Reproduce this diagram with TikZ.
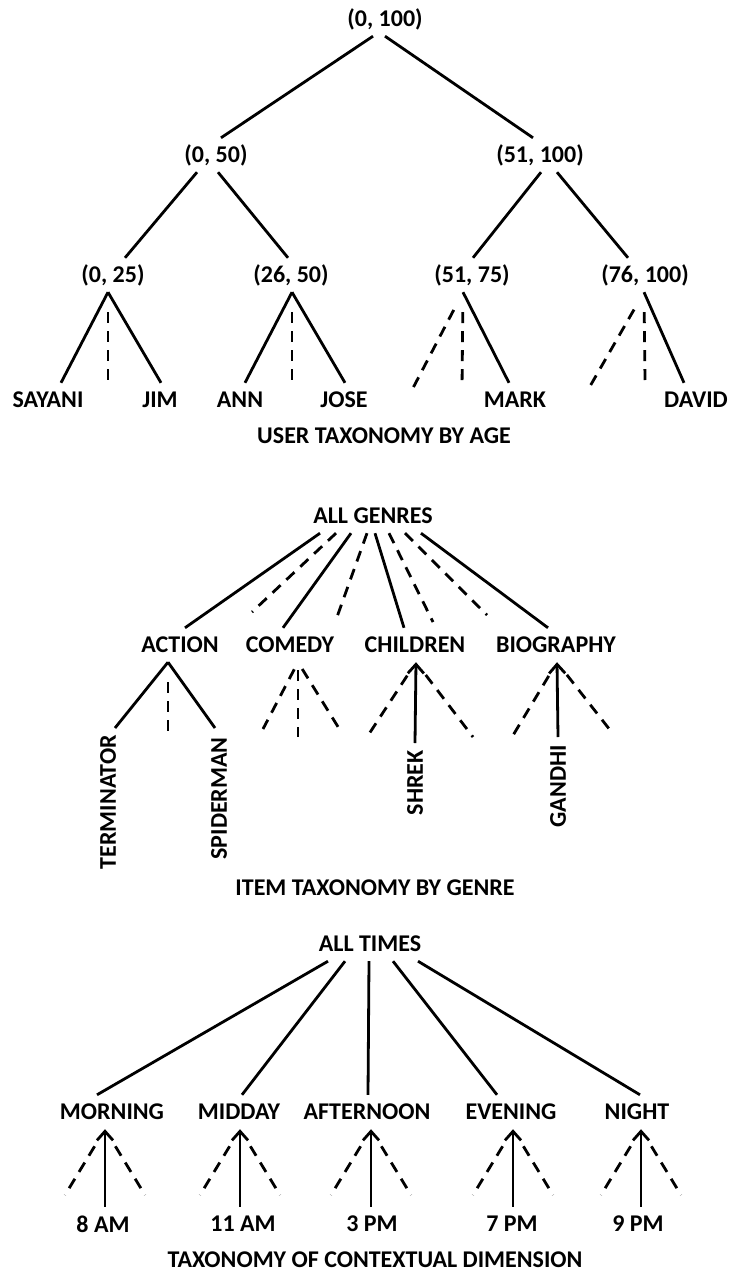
\documentclass[tikz,border=0pt]{standalone}
\usepackage{fontspec}
\setmainfont{Carlito}
\usetikzlibrary{arrows.meta}

\begin{document}
\begin{tikzpicture}[
  x=1pt,y=-1pt,
  lbl/.style={font=\bfseries\fontsize{24}{28}\selectfont,inner sep=0pt,minimum height=34pt},
  vlbl/.style={lbl,rotate=90,anchor=east,minimum height=0pt},
  sl/.style={line width=2.8pt},
  dl/.style={line width=2.8pt,dash pattern=on 11pt off 8pt},
  up/.style={line width=2.8pt,-{Straight Barb[length=9pt,width=16pt]}}
]
  \useasboundingbox (0,0) rectangle (730,1274);

  % user taxonomy by age
  \node[lbl] (root) at (385,19) {(0, 100)};
  \node[lbl] (a) at (216,155) {(0, 50)};
  \node[lbl] (b) at (540,155) {(51, 100)};
  \node[lbl] (a1) at (113,275) {(0, 25)};
  \node[lbl] (a2) at (291,275) {(26, 50)};
  \node[lbl] (b1) at (472,275) {(51, 75)};
  \node[lbl] (b2) at (645,275) {(76, 100)};
  \node[lbl] (sayani) at (48,400) {SAYANI};
  \node[lbl] (jim) at (160,400) {JIM};
  \node[lbl] (ann) at (240,400) {ANN};
  \node[lbl] (jose) at (344,400) {JOSE};
  \node[lbl] (mark) at (515,400) {MARK};
  \node[lbl] (david) at (696,400) {DAVID};
  \node[lbl] (agecap) at (384,436) {USER TAXONOMY BY AGE};
  \coordinate (a1v) at (108,380);
  \coordinate (a2v) at (292,380);
  \coordinate (b1l) at (413,388);
  \coordinate (b1v) at (462,388);
  \coordinate (b2l) at (589,388);
  \coordinate (b2v) at (645,380);

  \draw[sl] ([xshift=-12]root.south) -- ([xshift=5]a.north);
  \draw[sl] (root.south) -- ([xshift=-7]b.north);
  \draw[sl] ([xshift=-19]a.south) -- ([xshift=12]a1.north);
  \draw[sl] ([xshift=2]a.south) -- ([xshift=-3]a2.north);
  \draw[sl] ([xshift=1]b.south) -- ([xshift=1]b1.north);
  \draw[sl] ([xshift=17]b.south) -- ([xshift=-17]b2.north);
  \draw[sl] ([xshift=-5]a1.south) -- ([xshift=13]sayani.north);
  \draw[sl] ([xshift=-5]a1.south) -- ([xshift=1]jim.north);
  \draw[dl,shorten <=20pt] ([xshift=-5]a1.south) -- (a1v);
  \draw[sl] ([xshift=1]a2.south) -- ([xshift=5]ann.north);
  \draw[sl] ([xshift=1]a2.south) -- ([xshift=1]jose.north);
  \draw[dl,shorten <=20pt] ([xshift=1]a2.south) -- (a2v);
  \draw[sl] ([xshift=-9]b1.south) -- ([xshift=-6]mark.north);
  \draw[dl,shorten <=20pt] ([xshift=-9]b1.south) -- (b1l);
  \draw[dl,shorten <=20pt] ([xshift=-9]b1.south) -- (b1v);
  \draw[sl] ([xshift=-1]b2.south) -- ([xshift=-12]david.north);
  \draw[dl,shorten <=20pt] ([xshift=-1]b2.south) -- (b2l);
  \draw[dl,shorten <=20pt] ([xshift=-1]b2.south) -- (b2v);

  % item taxonomy by genre
  \node[lbl] (genres) at (373,516) {ALL GENRES};
  \node[lbl] (action) at (180,645) {ACTION};
  \node[lbl] (comedy) at (290,645) {COMEDY};
  \node[lbl] (children) at (415,645) {CHILDREN};
  \node[lbl] (biography) at (556,645) {BIOGRAPHY};
  \node[vlbl] (terminator) at (108,735) {TERMINATOR};
  \node[vlbl] (spiderman) at (219,737) {SPIDERMAN};
  \node[vlbl] (shrek) at (415,750) {SHREK};
  \node[vlbl] (gandhi) at (558,745) {GANDHI};
  \node[lbl] (genrecap) at (375,888) {ITEM TAXONOMY BY GENRE};
  \coordinate (g2) at (252,612);
  \coordinate (g4) at (337,617);
  \coordinate (g6) at (433,622);
  \coordinate (g7) at (487,615);
  \coordinate (actv) at (168,737);
  \coordinate (coml) at (263,729);
  \coordinate (comv) at (298,737);
  \coordinate (comr) at (340,730);
  \coordinate (chl) at (367,737);
  \coordinate (chr) at (473,737);
  \coordinate (bil) at (512,737);
  \coordinate (bir) at (610,730);

  \draw[sl] ([xshift=-53]genres.south) -- ([xshift=5]action.north);
  \draw[dl] ([xshift=-37]genres.south) -- (g2);
  \draw[sl] ([xshift=-22]genres.south) -- ([xshift=-7]comedy.north);
  \draw[dl] ([xshift=-6]genres.south) -- (g4);
  \draw[sl] ([xshift=2]genres.south) -- ([xshift=-11]children.north);
  \draw[dl] ([xshift=16]genres.south) -- (g6);
  \draw[dl] ([xshift=32]genres.south) -- (g7);
  \draw[sl] ([xshift=48]genres.south) -- ([xshift=-8]biography.north);
  \draw[sl] ([xshift=-12]action.south) -- ([shift={(7,-7)}]terminator.east);
  \draw[sl] ([xshift=-12]action.south) -- ([shift={(-4,-9)}]spiderman.east);
  \draw[dl,shorten <=20pt] ([xshift=-12]action.south) -- (actv);
  \draw[dl,shorten <=8pt] ([xshift=8]comedy.south) -- (coml);
  \draw[dl,shorten <=8pt] ([xshift=8]comedy.south) -- (comv);
  \draw[dl,shorten <=8pt] ([xshift=8]comedy.south) -- (comr);
  \draw[up] ([yshift=7]shrek.east) -- ([xshift=1]children.south);
  \draw[dl,shorten <=16pt] ([xshift=1]children.south) -- (chl);
  \draw[dl,shorten <=16pt] ([xshift=1]children.south) -- (chr);
  \draw[up] ([yshift=8]gandhi.east) -- ([xshift=1]biography.south);
  \draw[dl,shorten <=16pt] ([xshift=1]biography.south) -- (bil);
  \draw[dl,shorten <=16pt] ([xshift=1]biography.south) -- (bir);

  % taxonomy of contextual dimension
  \node[lbl] (times) at (370,944) {ALL TIMES};
  \node[lbl] (morning) at (112,1112) {MORNING};
  \node[lbl] (midday) at (239,1112) {MIDDAY};
  \node[lbl] (afternoon) at (367,1112) {AFTERNOON};
  \node[lbl] (evening) at (511,1112) {EVENING};
  \node[lbl] (night) at (637,1112) {NIGHT};
  \node[lbl] (t8am) at (103,1224) {8 AM};
  \node[lbl] (t11am) at (243,1224) {11 AM};
  \node[lbl] (t3pm) at (372,1224) {3 PM};
  \node[lbl] (t7pm) at (512,1224) {7 PM};
  \node[lbl] (t9pm) at (638,1224) {9 PM};
  \node[lbl] (timecap) at (375,1260) {TAXONOMY OF CONTEXTUAL DIMENSION};
  \coordinate (mol) at (65,1195);  \coordinate (mor) at (145,1195);
  \coordinate (mil) at (200,1195); \coordinate (mir) at (280,1195);
  \coordinate (afl) at (331,1195); \coordinate (afr) at (411,1195);
  \coordinate (evl) at (473,1195); \coordinate (evr) at (553,1195);
  \coordinate (nil) at (601,1195); \coordinate (nir) at (681,1195);

  \draw[sl] ([xshift=-42]times.south) -- ([xshift=-15]morning.north);
  \draw[sl] ([xshift=-25]times.south) -- ([xshift=3]midday.north);
  \draw[sl] ([xshift=-1]times.south) -- ([xshift=1]afternoon.north);
  \draw[sl] ([xshift=23]times.south) -- ([xshift=-14]evening.north);
  \draw[sl] ([xshift=48]times.south) -- ([xshift=3]night.north);
  \draw[up] ([xshift=2]t8am.north) -- ([xshift=-7]morning.south);
  \draw[dl,shorten <=20pt] ([xshift=-7]morning.south) -- (mol);
  \draw[dl,shorten <=20pt] ([xshift=-7]morning.south) -- (mor);
  \draw[up] ([xshift=-3]t11am.north) -- ([xshift=1]midday.south);
  \draw[dl,shorten <=20pt] ([xshift=1]midday.south) -- (mil);
  \draw[dl,shorten <=20pt] ([xshift=1]midday.south) -- (mir);
  \draw[up] ([xshift=-1]t3pm.north) -- ([xshift=4]afternoon.south);
  \draw[dl,shorten <=20pt] ([xshift=4]afternoon.south) -- (afl);
  \draw[dl,shorten <=20pt] ([xshift=4]afternoon.south) -- (afr);
  \draw[up] ([xshift=1]t7pm.north) -- ([xshift=2]evening.south);
  \draw[dl,shorten <=20pt] ([xshift=2]evening.south) -- (evl);
  \draw[dl,shorten <=20pt] ([xshift=2]evening.south) -- (evr);
  \draw[up] ([xshift=3]t9pm.north) -- ([xshift=4]night.south);
  \draw[dl,shorten <=20pt] ([xshift=4]night.south) -- (nil);
  \draw[dl,shorten <=20pt] ([xshift=4]night.south) -- (nir);
\end{tikzpicture}
\end{document}
